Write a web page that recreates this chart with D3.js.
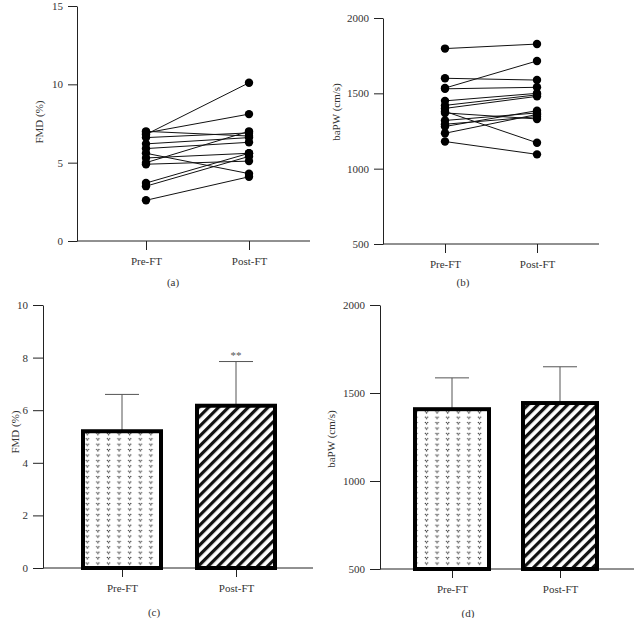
<!DOCTYPE html>
<html><head><meta charset="utf-8">
<script src="https://cdn.jsdelivr.net/npm/d3@7"></script>
<style>
body{margin:0;background:#fff}
svg{display:block}
svg text{font-family:"Liberation Serif","Times New Roman",serif !important;fill:#333}
</style>
</head><body>
<svg id="chart" width="634" height="618"></svg>
<script>
// ---- data ----
const groups = ["Pre-FT", "Post-FT"];
const fmdPre  = [6.8, 6.9, 7.0, 6.6, 6.2, 5.9, 5.6, 5.3, 5.0, 4.9, 3.7, 3.5, 2.6];
const fmdPost = [10.1, 8.1, 6.7, 6.9, 6.6, 6.3, 4.3, 5.6, 7.0, 5.1, 5.6, 5.4, 4.1];
const bapwPre  = [1797, 1600, 1535, 1530, 1450, 1420, 1400, 1380, 1370, 1320, 1295, 1280, 1235, 1180];
const bapwPost = [1827, 1588, 1715, 1540, 1500, 1490, 1480, 1172, 1330, 1370, 1345, 1385, 1360, 1095];
const fmdMean = [5.2, 6.17];
const fmdErr  = [1.4, 1.68];
const fmdSignif = ["", "**"];
const bapwMean = [1408, 1443];
const bapwErr  = [178, 206];
const bapwSignif = ["", ""];
const fmdTicksA = [0, 5, 10, 15];
const fmdTicksC = [0, 2, 4, 6, 8, 10];
const bapwTicks = [500, 1000, 1500, 2000];
const captions = ["(a)", "(b)", "(c)", "(d)"];
const yTitles = ["FMD (%)", "baPW (cm/s)"];

const svg = d3.select("#chart");
const AX = "#222";
const FONT = '"Liberation Serif","Times New Roman",serif';

// patterns
const defs = svg.append("defs");
const dots = defs.append("pattern").attr("id", "dots").attr("patternUnits", "userSpaceOnUse")
  .attr("width", 10.6).attr("height", 5.4);
dots.append("rect").attr("width", 10.6).attr("height", 5.4).attr("fill", "#fff");
[[1.4, 1.3], [3.6, 1.3], [2.5, 2.6]].forEach(p =>
  dots.append("circle").attr("cx", p[0]).attr("cy", p[1]).attr("r", 0.7).attr("fill", "#333"));
const hatch = defs.append("pattern").attr("id", "hatch").attr("patternUnits", "userSpaceOnUse")
  .attr("width", 7).attr("height", 7).attr("patternTransform", "rotate(45)");
hatch.append("rect").attr("width", 7).attr("height", 7).attr("fill", "#fff");
hatch.append("line").attr("x1", 1.6).attr("x2", 1.6).attr("y1", 0).attr("y2", 7)
  .attr("stroke", "#111").attr("stroke-width", 3.2);

function frame(cfg, domain, ticks, title) {
  const y = d3.scaleLinear().domain(domain).range([cfg.yBottom, cfg.yTop]);
  const x = d3.scalePoint().domain(groups).range(cfg.xPts);
  const g = svg.append("g");
  const ya = g.append("g").attr("transform", `translate(${cfg.yAxisX},0)`)
    .call(d3.axisLeft(y).tickValues(ticks).tickFormat(d3.format("d"))
      .tickSize(cfg.tick).tickPadding(5).tickSizeOuter(0));
  const xa = g.append("g").attr("transform", `translate(0,${cfg.yBottom})`)
    .call(d3.axisBottom(x).tickSize(9).tickPadding(7));
  xa.select(".domain").remove();
  g.append("line").attr("x1", cfg.yAxisX).attr("x2", cfg.xEnd)
    .attr("y1", cfg.yBottom).attr("y2", cfg.yBottom).attr("stroke", AX);
  [ya, xa].forEach(a => {
    a.attr("font-family", FONT);
    a.selectAll("line,path").attr("stroke", AX);
    a.selectAll("text").attr("font-size", 11).attr("fill", "#333").style("font-family", FONT);
  });
  g.append("text").attr("transform", `translate(${cfg.titleX},${cfg.titleY}) rotate(-90)`)
    .attr("text-anchor", "middle").attr("dominant-baseline", "middle")
    .attr("font-size", 11).text(title);
  g.append("text").attr("x", cfg.capX).attr("y", cfg.capY)
    .attr("text-anchor", "middle").attr("dominant-baseline", "middle")
    .attr("font-size", 11).text(cfg.caption);
  return {g, x, y};
}

function paired(cfg, pre, post, domain, ticks, title) {
  const {g, x, y} = frame(cfg, domain, ticks, title);
  const pairs = pre.map((v, i) => [v, post[i]]);
  g.append("g").selectAll("line").data(pairs).join("line")
    .attr("x1", x(groups[0])).attr("x2", x(groups[1]))
    .attr("y1", d => y(d[0])).attr("y2", d => y(d[1]))
    .attr("stroke", "#111").attr("stroke-width", 1);
  [pre, post].forEach((arr, k) => {
    g.append("g").selectAll("circle").data(arr).join("circle")
      .attr("cx", x(groups[k])).attr("cy", d => y(d)).attr("r", 4.2).attr("fill", "#000");
  });
}

function bars(cfg, means, errs, signif, domain, ticks, title) {
  const {g, x, y} = frame(cfg, domain, ticks, title);
  const data = means.map((m, i) => ({g: groups[i], m, e: errs[i], s: signif[i]}));
  data.forEach(d => {
    const cx = x(d.g);
    g.append("line").attr("x1", cx).attr("x2", cx).attr("y1", y(d.m)).attr("y2", y(d.m + d.e))
      .attr("stroke", "#555");
    g.append("line").attr("x1", cx - 17).attr("x2", cx + 17).attr("y1", y(d.m + d.e)).attr("y2", y(d.m + d.e))
      .attr("stroke", "#555");
    if (d.s) g.append("text").attr("x", cx).attr("y", y(d.m + d.e) - 3)
      .attr("text-anchor", "middle").attr("font-size", 11).style("fill", "#555").text(d.s);
  });
  g.append("g").selectAll("rect").data(data).join("rect")
    .attr("x", d => x(d.g) - cfg.bw / 2).attr("width", cfg.bw)
    .attr("y", d => y(d.m)).attr("height", d => y(domain[0]) - y(d.m))
    .attr("fill", (d, i) => i === 0 ? "url(#dots)" : "url(#hatch)")
    .attr("stroke", "#000").attr("stroke-width", 4);
}

paired({yAxisX: 77, yTop: 6, yBottom: 241, xEnd: 310, xPts: [146, 249], tick: 9,
        titleX: 40, titleY: 122, capX: 173, capY: 283, caption: captions[0]},
       fmdPre, fmdPost, [0, 15], fmdTicksA, yTitles[0]);
paired({yAxisX: 383, yTop: 18, yBottom: 244, xEnd: 599, xPts: [445, 537], tick: 9,
        titleX: 337, titleY: 112, capX: 463, capY: 283, caption: captions[1]},
       bapwPre, bapwPost, [500, 2000], bapwTicks, yTitles[1]);
bars({yAxisX: 43, yTop: 305, yBottom: 568, xEnd: 313, xPts: [122, 236], tick: 10, bw: 78,
      titleX: 16, titleY: 432, capX: 154, capY: 613, caption: captions[2]},
     fmdMean, fmdErr, fmdSignif, [0, 10], fmdTicksC, yTitles[0]);
bars({yAxisX: 380, yTop: 305, yBottom: 569, xEnd: 634, xPts: [452, 560], tick: 10, bw: 74,
      titleX: 332, titleY: 439, capX: 468, capY: 614, caption: captions[3]},
     bapwMean, bapwErr, bapwSignif, [500, 2000], bapwTicks, yTitles[1]);
</script>
</body></html>
